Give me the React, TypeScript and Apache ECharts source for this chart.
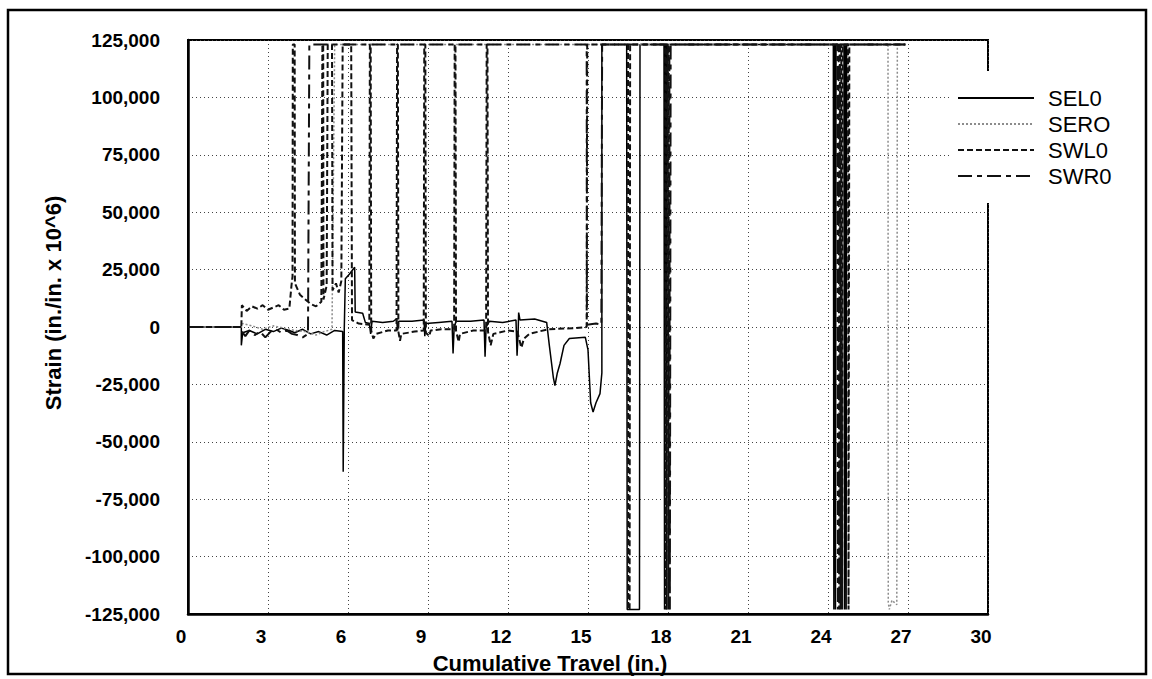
import React, { useEffect, useRef } from "react";
import * as echarts from "echarts";

// Series names (legend order)
const SERIES_NAMES = ["SEL0", "SERO", "SWL0", "SWR0"];

// Axis ranges
const X_MIN = 0;
const X_MAX = 30;
const X_STEP = 3;
const Y_MIN = -125000;
const Y_MAX = 125000;
const Y_STEP = 25000;

// SEL0 – solid line (x = inches, y = strain)
const sel0: [number, number][] = [
  [0, 0], [2.0, 0], [2.0, -8000], [2.05, -2500], [2.3, -1500], [2.6, -3000], [2.9, -1000],
  [3.2, -2000], [3.5, -500], [3.8, -1500], [4.0, -2500], [4.3, -1000], [4.6, -3000],
  [4.9, -2000], [5.2, -3500], [5.5, -1500], [5.8, -2000], [5.82, -63000], [5.86, -1000],
  [5.9, 21000], [6.05, 23000], [6.25, 26000], [6.27, 6500], [6.55, 6000], [6.65, 2000],
  [6.8, 1500], [6.85, -3000], [6.9, 2500], [7.3, 2000], [7.7, 2500], [7.82, 3500],
  [7.86, -1500], [7.9, 2500], [8.4, 2500], [8.85, 3000], [8.88, -4000], [8.92, 1500],
  [9.4, 2000], [9.9, 2500], [9.94, -11500], [9.98, -500], [10.05, 2500], [10.6, 2500],
  [11.1, 3000], [11.14, -13000], [11.18, 0], [11.3, 2500], [11.8, 2000], [12.3, 3000],
  [12.34, -12500], [12.38, -2000], [12.4, 6300], [12.45, 3000], [13.0, 3500], [13.45, 2000],
  [13.55, -8000], [13.7, -22000], [13.76, -25500], [13.85, -20000], [13.95, -16000],
  [14.1, -8000], [14.3, -5000], [14.9, -4500], [15.0, -10000], [15.1, -33000],
  [15.19, -37000], [15.3, -33000], [15.45, -29000], [15.52, -20000], [15.52, 123000],
  [16.45, 123000], [16.47, -123000], [16.93, -123000], [16.95, 123000], [17.85, 123000],
  [17.87, -123000], [17.89, 123000], [17.93, 123000], [17.95, -123000], [17.97, 123000],
  [24.2, 123000], [24.22, -123000], [24.25, 123000], [24.28, -123000], [24.3, 123000],
  [24.6, 123000], [24.62, -123000], [24.65, 123000], [24.68, -123000], [24.7, 123000],
  [26.9, 123000],
];

// SERO – gray dotted line
const sero: [number, number][] = [
  [0, 0], [2.0, 0], [2.05, 1500], [2.4, 500], [2.8, -1000], [3.2, 500], [3.6, -500],
  [4.0, -1500], [4.4, -2000], [4.8, -3500], [5.1, -2000], [5.4, -1000], [5.5, 123000],
  [26.25, 123000], [26.26, -120000], [26.3, -123000], [26.4, -119000], [26.58, -121000],
  [26.6, 123000], [26.9, 123000],
];

// SWL0 – short dashed line
const swl0: [number, number][] = [
  [0, 0], [2.0, 0], [2.02, 9500], [2.2, 7000], [2.4, 9000], [2.6, 8000], [2.8, 9500],
  [3.0, 7500], [3.2, 8500], [3.4, 9500], [3.6, 7500], [3.8, 8000], [3.88, 18000],
  [3.92, 22000], [3.93, 123000], [4.0, 123000], [4.01, 19000], [4.2, 14000], [4.4, 12000],
  [4.6, 10000], [4.8, 9000], [5.0, 11000], [5.04, 123000], [5.07, 123000], [5.08, 12000],
  [5.2, 18000], [5.24, 123000], [5.4, 123000], [5.42, 16000], [5.55, 19000], [5.65, 15000],
  [5.75, 20000], [5.8, 123000], [6.12, 123000], [6.15, 3000], [6.4, 1500], [6.8, 1000],
  [6.82, 123000], [6.85, 123000], [6.87, -1500], [6.95, -5000], [7.05, -3000], [7.5, -1500],
  [7.82, -1500], [7.84, 123000], [7.87, 123000], [7.89, -2000], [7.95, -6000], [8.0, -3000],
  [8.5, -2000], [8.84, -1500], [8.86, 123000], [8.9, 123000], [8.92, -2500], [9.05, -4000],
  [9.1, -1500], [9.5, -1000], [9.98, -1000], [10.0, 123000], [10.03, 123000], [10.05, -1500],
  [10.15, -6500], [10.2, -3000], [10.7, -1500], [11.18, -1500], [11.2, 123000],
  [11.23, 123000], [11.25, -2000], [11.35, -8000], [11.45, -3000], [12.0, -1500],
  [12.35, -2000], [12.5, -9000], [12.6, -5000], [12.8, -3000], [13.5, -1000], [14.5, -500],
  [14.95, 0], [14.97, 123000], [16.5, 123000], [16.51, -123000], [16.56, -123000],
  [16.58, 123000], [17.9, 123000], [17.92, -123000], [17.94, 123000], [17.99, 123000],
  [18.01, -123000], [18.03, 123000], [24.45, 123000], [24.47, -123000], [24.5, 123000],
  [24.53, -123000], [24.55, 123000], [24.75, 123000], [24.77, -123000], [24.8, 123000],
  [26.9, 123000],
];

// SWR0 – dash-dot line
const swr0: [number, number][] = [
  [0, 0], [2.0, 0], [2.02, -2000], [2.15, -4000], [2.3, -1500], [2.5, -3500], [2.7, -2000],
  [2.9, -4500], [3.1, -2000], [3.3, -1000], [3.5, -2500], [3.7, -1500], [3.9, -3000],
  [4.1, -3500], [4.3, -4500], [4.5, -3000], [4.55, 123000], [14.95, 123000], [14.96, 1000],
  [15.3, 1500], [15.5, 1000], [15.53, 123000], [18.05, 123000], [18.07, -123000],
  [18.1, 123000], [24.35, 123000], [24.37, -123000], [24.4, 123000], [24.42, -123000],
  [24.44, 123000], [26.9, 123000],
];

const FONT = '"Liberation Sans", Arial, Helvetica, sans-serif';

function fmt(v: number): string {
  const s = Math.abs(v).toString().replace(/\B(?=(\d{3})+(?!\d))/g, ",");
  return (v < 0 ? "-" : "") + s;
}

export default function App() {
  const ref = useRef<HTMLDivElement>(null);

  useEffect(() => {
    if (!ref.current) return;
    const chart = echarts.init(ref.current, undefined, { renderer: "svg" });

    const seriesData = [sel0, sero, swl0, swr0];
    const lineStyles = [
      { color: "#000", width: 1.5, type: "solid" },
      { color: "#8c8c8c", width: 1.5, type: [2, 2] },
      { color: "#111", width: 2, type: [6, 3] },
      { color: "#111", width: 2, type: [14, 5, 5, 5] },
    ];

    const option: any = {
      animation: false,
      backgroundColor: "#fff",
      grid: {
        left: 188,
        top: 40,
        width: 800,
        height: 574,
        show: true,
        borderColor: "#000",
        borderWidth: 2,
        backgroundColor: "transparent",
      },
      xAxis: {
        type: "value",
        min: X_MIN,
        max: X_MAX,
        interval: X_STEP,
        axisLine: { show: true, onZero: false, lineStyle: { color: "#000", width: 2.5 } },
        axisTick: { show: false },
        axisLabel: {
          color: "#000",
          fontSize: 19,
          fontWeight: "bold",
          fontFamily: FONT,
          margin: 13,
          padding: [0, 14, 0, 0],
        },
        splitLine: { show: true, lineStyle: { color: "#444", width: 1, type: [1, 3] } },
      },
      yAxis: {
        type: "value",
        min: Y_MIN,
        max: Y_MAX,
        interval: Y_STEP,
        axisLine: { show: true, onZero: false, lineStyle: { color: "#000", width: 2.5 } },
        axisTick: { show: false },
        axisLabel: {
          color: "#000",
          fontSize: 19,
          fontWeight: "bold",
          fontFamily: FONT,
          margin: 28,
          padding: [6, 0, 0, 0],
          formatter: (v: number) => fmt(v),
        },
        splitLine: { show: true, lineStyle: { color: "#444", width: 1, type: [1, 3] } },
      },
      legend: {
        data: SERIES_NAMES,
        orient: "vertical",
        left: 950,
        top: 71,
        itemWidth: 76,
        itemHeight: 14,
        itemGap: 4,
        padding: [16, 40, 16, 7],
        backgroundColor: "#fff",
        z: 10,
        itemStyle: { opacity: 0 },
        textStyle: {
          color: "#000",
          fontSize: 22,
          fontFamily: FONT,
          padding: [0, 0, 0, 9],
        },
      },
      graphic: [
        {
          type: "rect",
          shape: { x: 8, y: 10, width: 1138, height: 664 },
          style: { fill: "none", stroke: "#000", lineWidth: 2.5 },
          z: 50,
        },
        {
          type: "text",
          x: 550,
          y: 663,
          style: {
            text: "Cumulative Travel (in.)",
            fontSize: 22,
            fontWeight: "bold",
            fontFamily: FONT,
            fill: "#000",
            textAlign: "center",
            textVerticalAlign: "middle",
          },
        },
        {
          type: "text",
          x: 53,
          y: 303,
          rotation: Math.PI / 2,
          style: {
            text: "Strain (in./in. x 10^6)",
            fontSize: 22,
            fontWeight: "bold",
            fontFamily: FONT,
            fill: "#000",
            textAlign: "center",
            textVerticalAlign: "middle",
          },
        },
      ],
      series: SERIES_NAMES.map((name, i) => ({
        name,
        type: "line",
        data: seriesData[i],
        symbol: "none",
        showSymbol: false,
        clip: true,
        lineStyle: lineStyles[i],
        itemStyle: { color: lineStyles[i].color },
        z: 2 + i,
      })),
    };

    chart.setOption(option);
    return () => chart.dispose();
  }, []);

  return (
    <div
      ref={ref}
      style={{ position: "fixed", left: 0, top: 0, width: 1152, height: 679, background: "#fff" }}
    />
  );
}
